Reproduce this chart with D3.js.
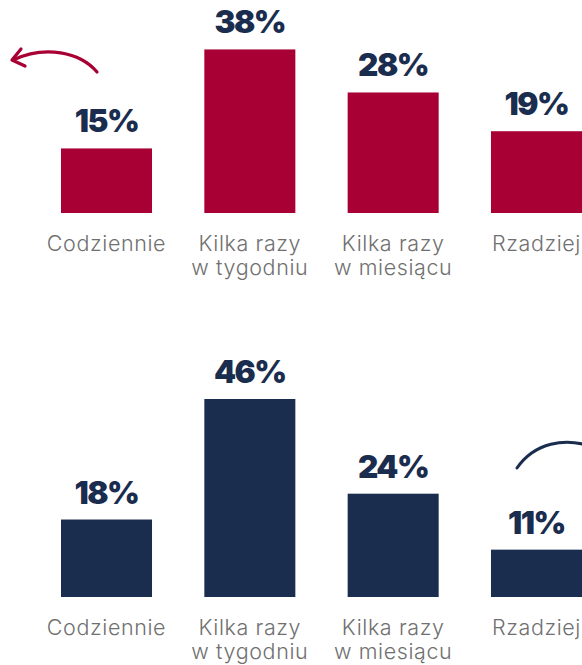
<!DOCTYPE html>
<html><head><meta charset="utf-8">
<script src="https://cdn.jsdelivr.net/npm/d3@7"></script>
<style>html,body{margin:0;padding:0;background:#fff;overflow:hidden}</style>
</head><body>
<svg id="c" width="582" height="665"></svg>
<script>
const categories = ["Codziennie", "Kilka razy|w tygodniu", "Kilka razy|w miesiącu", "Rzadziej"];
const topValues = [15, 38, 28, 19];
const bottomValues = [18, 46, 24, 11];
const valueFormat = v => v + "%";

const RED = "#a80034", NAVY = "#1b2d4e", GRAY = "#707070";
const svg = d3.select("#c");

const x = d3.scaleBand().domain(categories).range([61, 582]).paddingInner(0.365).paddingOuter(0);

function panel(values, baseline, color) {
  const y = d3.scaleLinear().domain([0, 46]).range([baseline, baseline - 198]);
  const g = svg.append("g");
  const data = categories.map((c, i) => ({c, v: values[i]}));
  g.selectAll("rect").data(data).join("rect")
    .attr("x", d => x(d.c)).attr("width", x.bandwidth())
    .attr("y", d => y(d.v)).attr("height", d => y(0) - y(d.v))
    .attr("fill", color);
  g.selectAll("text.val").data(data).join("text").attr("class", "val")
    .attr("x", d => x(d.c) + x.bandwidth() / 2)
    .attr("y", d => y(d.v) - 16)
    .attr("text-anchor", "middle")
    .attr("font-family", "Inter, 'Open Sans', sans-serif")
    .attr("font-weight", 900).attr("font-size", 31.5)
    .attr("letter-spacing", -1.5)
    .attr("fill", NAVY).text(d => valueFormat(d.v));
  const lab = g.selectAll("text.cat").data(data).join("text").attr("class", "cat")
    .attr("x", d => x(d.c) + x.bandwidth() / 2)
    .attr("y", baseline + 38)
    .attr("text-anchor", "middle")
    .attr("font-family", "Inter, 'Open Sans', sans-serif")
    .attr("font-weight", 300).attr("font-size", 21.5)
    .attr("letter-spacing", 0.6)
    .attr("fill", GRAY);
  lab.each(function(d) {
    const parts = d.c.split("|");
    d3.select(this).selectAll("tspan").data(parts).join("tspan")
      .attr("x", x(d.c) + x.bandwidth() / 2)
      .attr("dy", (p, i) => i === 0 ? 0 : 24)
      .text(p => p);
  });
}

panel(topValues, 213, RED);
panel(bottomValues, 597, NAVY);

// decorative arrows
svg.append("path").attr("d", "M97,72 C80,52 45,45 13,60")
  .attr("fill", "none").attr("stroke", RED).attr("stroke-width", 3.2).attr("stroke-linecap", "round");
svg.append("path").attr("d", "M21,49 L12,60 L25,66")
  .attr("fill", "none").attr("stroke", RED).attr("stroke-width", 3.2)
  .attr("stroke-linecap", "round").attr("stroke-linejoin", "round");
svg.append("path").attr("d", "M517,468 C535,442 565,438 590,446")
  .attr("fill", "none").attr("stroke", NAVY).attr("stroke-width", 3).attr("stroke-linecap", "round");
</script>
</body></html>
